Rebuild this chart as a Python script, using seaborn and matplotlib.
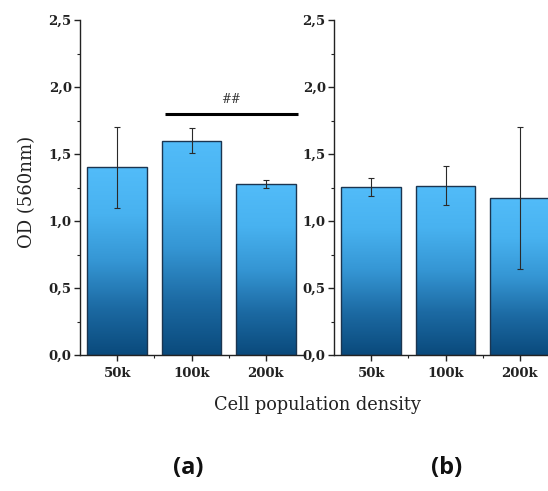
import numpy as np
import matplotlib
matplotlib.use("Agg")
import matplotlib.pyplot as plt
from matplotlib.colors import LinearSegmentedColormap
from matplotlib.ticker import MultipleLocator, FixedLocator
import seaborn as sns

# Optical density (560 nm) at three seeding densities, two experiments
categories = ["50k", "100k", "200k"]
od_a = [1.40, 1.60, 1.28]
err_a = [0.305, 0.095, 0.03]
od_b = [1.255, 1.265, 1.17]
err_b = [0.065, 0.145, 0.53]
y_ticks = [0.0, 0.5, 1.0, 1.5, 2.0, 2.5]
y_tick_labels = ["0,0", "0,5", "1,0", "1,5", "2,0", "2,5"]
sig_label = "##"
sig_level = 1.80

sns.set_theme(style="white")
serif = ["DejaVu Serif"]

fig = plt.figure(figsize=(5.48, 4.91), dpi=100)
fig.patch.set_facecolor("white")

bar_cmap = LinearSegmentedColormap.from_list(
    "odblue", ["#0a4a7c", "#1c6aa3", "#3596d4", "#48b2f0", "#52bcf9"])
gradient = np.linspace(0, 1, 256).reshape(-1, 1)


def panel(ax, values, errors):
    sns.barplot(x=categories, y=values, ax=ax, width=0.8,
                color="#3fa6e6", edgecolor="#1b3550", linewidth=1.0,
                saturation=1.0, errorbar=None, zorder=2)
    for p in ax.patches:
        x0, y0 = p.get_x(), p.get_y()
        w, h = p.get_width(), p.get_height()
        im = ax.imshow(gradient, extent=[x0, x0 + w, y0, y0 + h],
                       origin="lower", aspect="auto", cmap=bar_cmap,
                       zorder=2.1)
        im.set_clip_path(p)
        p.set_facecolor("none")
        p.set_zorder(2.2)
    ax.errorbar(range(len(categories)), values, yerr=errors, fmt="none",
                ecolor="#2a2a2a", elinewidth=0.8, capsize=2.5,
                capthick=0.8, zorder=3)
    ax.set_xlim(-0.5, 2.5)
    ax.set_ylim(0, 2.5)
    ax.set_yticks(y_ticks)
    ax.set_yticklabels(y_tick_labels)
    ax.yaxis.set_minor_locator(MultipleLocator(0.25))
    ax.xaxis.set_minor_locator(FixedLocator([0.5, 1.5]))
    ax.tick_params(axis="both", which="major", direction="out",
                   length=4, width=1.0, color="#222222", pad=2,
                   bottom=True, left=True)
    ax.tick_params(axis="both", which="minor", direction="out",
                   length=2.5, width=0.8, color="#222222",
                   bottom=True, left=True)
    for lab in ax.get_xticklabels() + ax.get_yticklabels():
        lab.set_fontfamily(serif)
        lab.set_fontweight("bold")
        lab.set_fontsize(9.5)
        lab.set_color("#222222")
    ax.tick_params(axis="x", which="major", pad=5)
    for side in ("top", "right"):
        ax.spines[side].set_visible(False)
    for side in ("left", "bottom"):
        ax.spines[side].set_color("#222222")
        ax.spines[side].set_linewidth(1.0)
    ax.set_facecolor("none")
    ax.set_xlabel("")
    ax.set_ylabel("")


ax_a = fig.add_axes([0.146, 0.277, 0.407, 0.682])
ax_b = fig.add_axes([0.6095, 0.277, 0.407, 0.682])
panel(ax_a, od_a, err_a)
panel(ax_b, od_b, err_b)

# significance bar across 100k and 200k in panel (a)
ax_a.plot([0.64, 2.43], [sig_level, sig_level], color="black", lw=2.2,
          solid_capstyle="butt", clip_on=False, zorder=4)
ax_a.text(1.53, sig_level + 0.06, sig_label, ha="center", va="bottom",
          fontfamily=serif, fontsize=8.5, color="#333333")

fig.text(27 / 548, 1 - 192 / 491, "OD (560nm)", rotation=90,
         ha="center", va="center", fontfamily=serif, fontsize=13,
         color="#222222")
fig.text(317 / 548, 1 - 405 / 491, "Cell population density",
         ha="center", va="center", fontfamily=serif, fontsize=12.8,
         color="#222222")
fig.text(188 / 548, 1 - 468 / 491, "(a)", ha="center", va="center",
         fontfamily=["Open Sans"], fontweight="bold", fontsize=17,
         color="#111111")
fig.text(447 / 548, 1 - 468 / 491, "(b)", ha="center", va="center",
         fontfamily=["Open Sans"], fontweight="bold", fontsize=17,
         color="#111111")

fig.savefig("out.png", dpi=100, facecolor="white")
